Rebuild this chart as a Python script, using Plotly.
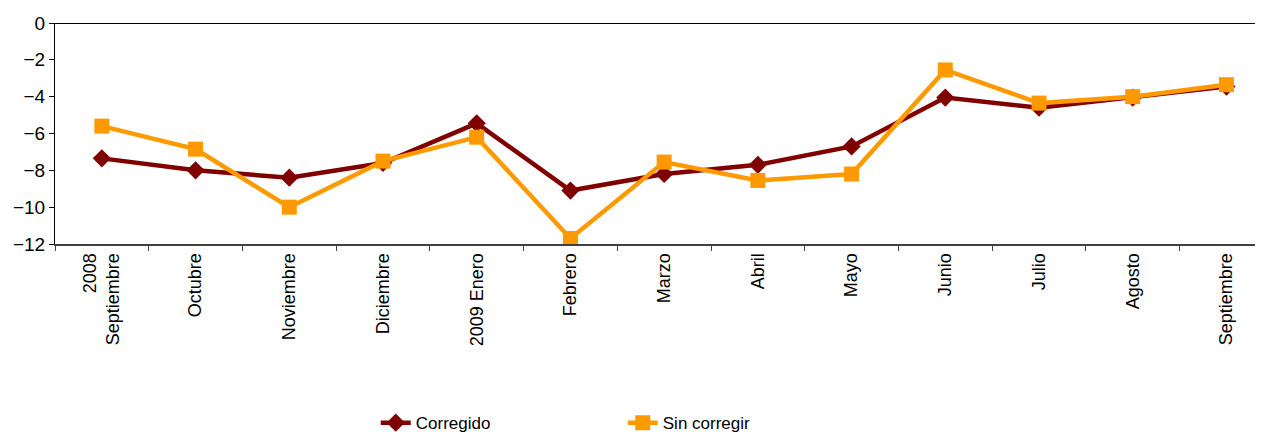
import plotly.graph_objects as go

meses = ['2008<br>Septiembre', 'Octubre', 'Noviembre', 'Diciembre', '2009 Enero',
         'Febrero', 'Marzo', 'Abril', 'Mayo', 'Junio', 'Julio', 'Agosto', 'Septiembre']
corregido = [-7.35, -8.0, -8.4, -7.6, -5.45, -9.1, -8.2, -7.7, -6.7, -4.05, -4.6, -4.05, -3.45]
sin_corregir = [-5.6, -6.85, -10.0, -7.5, -6.2, -11.7, -7.55, -8.55, -8.2, -2.55, -4.35, -4.0, -3.35]

fig = go.Figure()
fig.add_trace(go.Scatter(
    x=meses, y=corregido, name='Corregido', mode='lines+markers',
    line=dict(color='#800000', width=4.5),
    marker=dict(symbol='diamond', size=14, color='#800000')
))
fig.add_trace(go.Scatter(
    x=meses, y=sin_corregir, name='Sin corregir', mode='lines+markers',
    line=dict(color='#FF9900', width=4.5),
    marker=dict(symbol='square', size=15, color='#FF9900')
))

# the page body adds an 8px offset, so the figure is a bit smaller than the window
fig.update_layout(
    width=1255, height=428,
    margin=dict(l=47, r=0, t=15, b=192),
    plot_bgcolor='white', paper_bgcolor='white',
    font=dict(family='Liberation Sans, Arial, sans-serif', size=16, color='black'),
    legend=dict(orientation='h', x=0.47, xanchor='center',
                yref='container', y=0.03, yanchor='middle',
                font=dict(size=17, family='Liberation Sans Narrow, Liberation Sans, Arial'),
                entrywidth=202, itemwidth=30),
)
fig.update_xaxes(
    range=[-0.5, 12.39], tickangle=-90, tickson='boundaries', automargin=False,
    ticks='outside', ticklen=5, tickcolor='#404040',
    showline=True, linecolor='#404040', linewidth=2, showgrid=False,
    tickfont=dict(size=18)
)
fig.update_yaxes(
    range=[-12, 0], dtick=2, ticks='outside', ticklen=5, tickcolor='black', automargin=False,
    showline=True, linecolor='black', linewidth=1, showgrid=False,
    zeroline=True, zerolinecolor='black', zerolinewidth=1,
    tickfont=dict(size=19)
)

fig.write_html('out.html')
